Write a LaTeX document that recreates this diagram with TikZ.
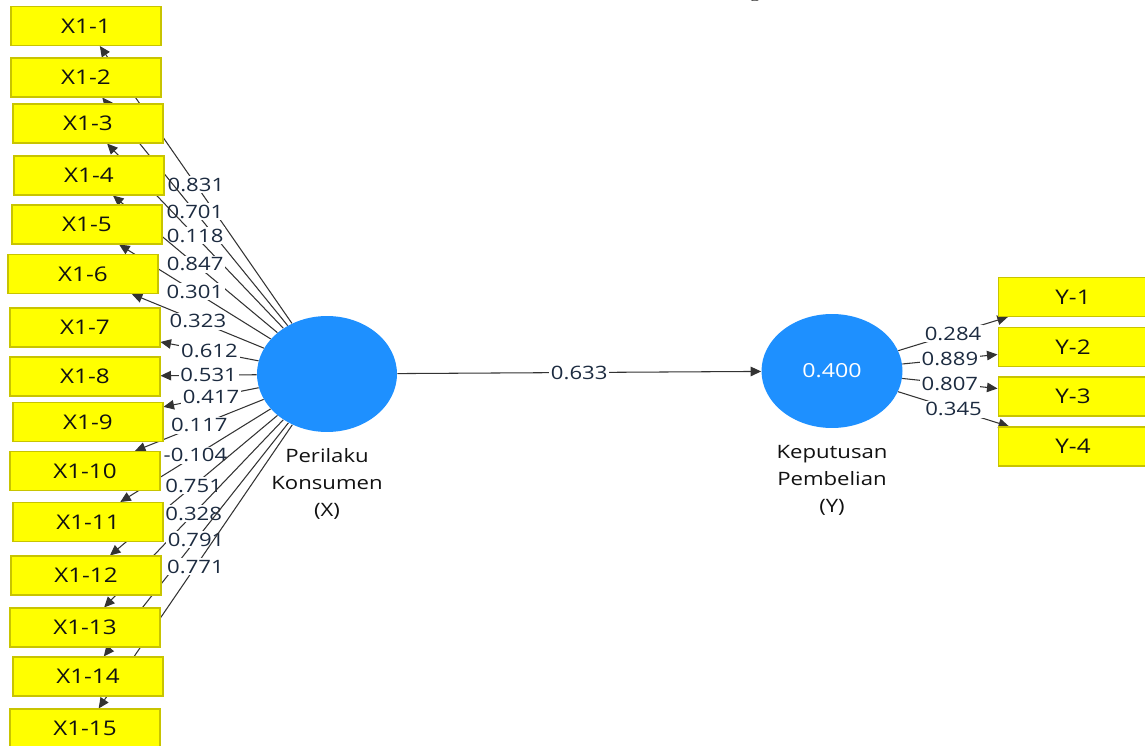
\documentclass[tikz,border=0pt]{standalone}
\usepackage{fontspec}
\usetikzlibrary{arrows.meta,shapes.geometric,backgrounds}
\newfontfamily\uifont[FakeStretch=1.2]{Open Sans}
\definecolor{indfill}{HTML}{FFFF00}
\definecolor{inddraw}{HTML}{C8C400}
\definecolor{latent}{HTML}{1E90FF}
\definecolor{ink}{HTML}{111111}
\definecolor{wire}{HTML}{333333}
\definecolor{coef}{HTML}{1C2B40}
\tikzset{
  ind/.style={draw=inddraw,fill=indfill,line width=0.6pt,minimum width=3cm,
    minimum height=0.78cm,inner sep=0pt,text=ink,font=\uifont\fontsize{11.5}{13}\selectfont},
  lv/.style={ellipse,fill=latent,minimum width=2.8cm,minimum height=2.32cm,inner sep=0pt,
    text=white,font=\uifont\fontsize{11}{13}\selectfont},
  lvname/.style={align=center,text=ink,font=\uifont\fontsize{10.5}{15.3}\selectfont},
  load/.style={-{Triangle[length=2.1mm,width=1.9mm]},line width=0.6pt,draw=wire},
  coefl/.style={fill=white,inner sep=1pt,text=coef,font=\uifont\fontsize{10.5}{12}\selectfont},
}

\begin{document}
\begin{tikzpicture}[x=0.02cm,y=-0.02cm]
    \useasboundingbox (0,0) rectangle (1145,746);

    % cut-off title
    \node[anchor=base,font=\fontsize{14}{16}\selectfont] (ttl) at (755,-3) {g};

    % indicators of X
    \node[ind] (x1)  at (86,26)    {X1-1};
    \node[ind] (x2)  at (86,77.5)  {X1-2};
    \node[ind] (x3)  at (88,123.5) {X1-3};
    \node[ind] (x4)  at (89,175.5) {X1-4};
    \node[ind] (x5)  at (87,224.5) {X1-5};
    \node[ind] (x6)  at (83,274)   {X1-6};
    \node[ind] (x7)  at (85,327.5) {X1-7};
    \node[ind] (x8)  at (85,376.5) {X1-8};
    \node[ind] (x9)  at (88,422)   {X1-9};
    \node[ind] (x10) at (85,471)   {X1-10};
    \node[ind] (x11) at (88,522)   {X1-11};
    \node[ind] (x12) at (86,575.5) {X1-12};
    \node[ind] (x13) at (85,627.5) {X1-13};
    \node[ind] (x14) at (88,676.5) {X1-14};
    \node[ind] (x15) at (85,728.5) {X1-15};

    % indicators of Y
    \node[ind] (y1) at (1073,297)   {Y-1};
    \node[ind] (y2) at (1073,347)   {Y-2};
    \node[ind] (y3) at (1073,396.5) {Y-3};
    \node[ind] (y4) at (1073,446.5) {Y-4};

    % latent variables
    \node[lv] (X) at (327,374) {};
    \node[lv,minimum width=2.82cm,minimum height=2.28cm] (Y) at (832,371) {0.400};
    \node[lvname] (Xname) at (327,484) {Perilaku\\Konsumen\\(X)};
    \node[lvname] (Yname) at (832,480) {Keputusan\\Pembelian\\(Y)};

    \begin{pgfonlayer}{background}
      \draw[load] (X) -- node[coefl] {0.831} (x1);
      \draw[load] (X) -- node[coefl] {0.701} (x2);
      \draw[load] (X) -- node[coefl] {0.118} (x3);
      \draw[load] (X) -- node[coefl] {0.847} (x4);
      \draw[load] (X) -- node[coefl] {0.301} (x5);
      \draw[load] (X) -- node[coefl] {0.323} (x6);
      \draw[load] (X) -- node[coefl] {0.612} (x7);
      \draw[load] (X) -- node[coefl] {0.531} (x8);
      \draw[load] (X) -- node[coefl] {0.417} (x9);
      \draw[load] (X) -- node[coefl] {0.117} (x10);
      \draw[load] (X) -- node[coefl] {-0.104} (x11);
      \draw[load] (X) -- node[coefl] {0.751} (x12);
      \draw[load] (X) -- node[coefl] {0.328} (x13);
      \draw[load] (X) -- node[coefl] {0.791} (x14);
      \draw[load] (X) -- node[coefl] {0.771} (x15);

      \draw[load] (Y) -- node[coefl] {0.284} (y1);
      \draw[load] (Y) -- node[coefl] {0.889} (y2);
      \draw[load] (Y) -- node[coefl] {0.807} (y3);
      \draw[load] (Y) -- node[coefl] {0.345} (y4);

      \draw[load] (X) -- node[coefl] {0.633} (Y);
    \end{pgfonlayer}
\end{tikzpicture}
\end{document}
